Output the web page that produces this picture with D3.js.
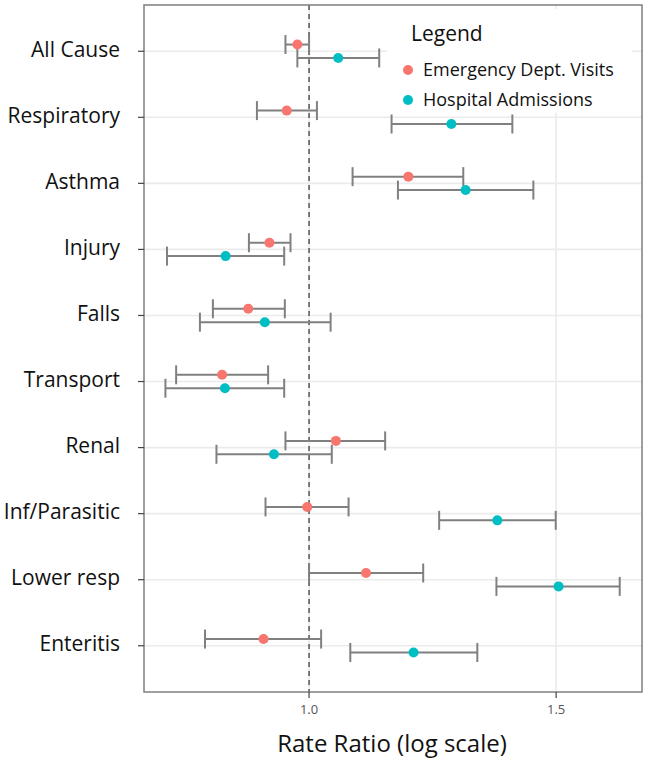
<!DOCTYPE html>
<html>
<meta charset="utf-8">
<script src="https://d3js.org/d3.v7.min.js"></script>
<style>
  body { margin: 0; background: #fff; }
  text { font-family: "Open Sans", sans-serif; }
</style>
<body>
<div id="chart"></div>
<script>
// outcome categories, top to bottom
var causes = ["All Cause", "Respiratory", "Asthma", "Injury", "Falls",
              "Transport", "Renal", "Inf/Parasitic", "Lower resp", "Enteritis"];

// emergency department visits: rate ratio and 95% CI
var edRR   = [0.981, 0.964, 1.177, 0.937, 0.905, 0.867, 1.045, 0.997, 1.098, 0.928];
var edLow  = [0.962, 0.918, 1.074, 0.906, 0.854, 0.804, 0.962, 0.931, 1.000, 0.843];
var edHigh = [1.000, 1.013, 1.288, 0.970, 0.961, 0.935, 1.133, 1.067, 1.206, 1.020];

// hospital admissions: rate ratio and 95% CI
var haRR   = [1.049, 1.263, 1.293, 0.872, 0.930, 0.871, 0.944, 1.362, 1.506, 1.187];
var haLow  = [0.981, 1.145, 1.157, 0.792, 0.836, 0.790, 0.859, 1.238, 1.360, 1.070];
var haHigh = [1.122, 1.396, 1.445, 0.960, 1.036, 0.960, 1.038, 1.499, 1.665, 1.318];

var xTicks = [1.0, 1.5];
var seriesNames = ["Emergency Dept. Visits", "Hospital Admissions"];
var seriesColors = ["#F8766D", "#00BFC4"];

var W = 646, H = 760;
var margin = {top: 5, right: 4, bottom: 68, left: 144};
var width = W - margin.left - margin.right,
    height = H - margin.top - margin.bottom;

var svg = d3.select("#chart").append("svg")
    .attr("width", W)
    .attr("height", H);

var g = svg.append("g")
    .attr("transform", "translate(" + margin.left + "," + margin.top + ")");

var x = d3.scaleLog().domain([0.7627, 1.727]).range([0, width]);
var y = d3.scalePoint().domain(causes).range([0, height]).padding(0.7);
var dodge = 6.7;

// gridlines
g.selectAll(".hgrid").data(causes).enter().append("line")
    .attr("x1", 0).attr("x2", width)
    .attr("y1", d => y(d)).attr("y2", d => y(d))
    .style("stroke", "#ebebeb").style("stroke-width", 1.6);
g.selectAll(".vgrid").data(xTicks).enter().append("line")
    .attr("x1", d => x(d)).attr("x2", d => x(d))
    .attr("y1", 0).attr("y2", height)
    .style("stroke", "#ebebeb").style("stroke-width", 1.6);

// reference line at 1
g.append("line")
    .attr("x1", x(1)).attr("x2", x(1))
    .attr("y1", 0).attr("y2", height)
    .style("stroke", "#555").style("stroke-width", 1.5)
    .style("stroke-dasharray", "5,4");

// build rows for both series
var rows = [];
causes.forEach(function(c, i) {
  rows.push({cause: c, s: 0, rr: edRR[i], lo: edLow[i], hi: edHigh[i]});
  rows.push({cause: c, s: 1, rr: haRR[i], lo: haLow[i], hi: haHigh[i]});
});
function yy(d) { return y(d.cause) + (d.s === 0 ? -dodge : dodge); }

var bars = g.selectAll(".err").data(rows).enter().append("g")
    .style("stroke", "#808080").style("stroke-width", 2);
bars.append("line")
    .attr("x1", d => x(d.lo)).attr("x2", d => x(d.hi))
    .attr("y1", yy).attr("y2", yy);
bars.append("line")
    .attr("x1", d => x(d.lo)).attr("x2", d => x(d.lo))
    .attr("y1", d => yy(d) - 9.5).attr("y2", d => yy(d) + 9.5);
bars.append("line")
    .attr("x1", d => x(d.hi)).attr("x2", d => x(d.hi))
    .attr("y1", d => yy(d) - 9.5).attr("y2", d => yy(d) + 9.5);

g.selectAll(".pt").data(rows).enter().append("circle")
    .attr("cx", d => x(d.rr)).attr("cy", yy).attr("r", 5)
    .style("fill", d => seriesColors[d.s]);

// legend
var leg = g.append("g").attr("transform", "translate(243,4)");
leg.append("rect").attr("x", 0).attr("y", 0).attr("width", 245).attr("height", 104)
    .style("fill", "#fff");
leg.append("text").attr("x", 24).attr("y", 32)
    .style("font-size", "21px").style("fill", "#111").text("Legend");
seriesNames.forEach(function(n, i) {
  leg.append("circle").attr("cx", 21).attr("cy", 61 + i * 30).attr("r", 5)
      .style("fill", seriesColors[i]);
  leg.append("text").attr("x", 36).attr("y", 61 + i * 30)
      .attr("dy", "0.35em")
      .style("font-size", "18px").style("fill", "#111").text(n);
});

// panel border
g.append("rect").attr("width", width).attr("height", height)
    .style("fill", "none").style("stroke", "#7f7f7f").style("stroke-width", 1.5);

// y axis
g.selectAll(".ytick").data(causes).enter().append("line")
    .attr("x1", -6).attr("x2", 0)
    .attr("y1", d => y(d)).attr("y2", d => y(d))
    .style("stroke", "#444").style("stroke-width", 1.2);
g.selectAll(".ylab").data(causes).enter().append("text")
    .attr("x", -24).attr("y", d => y(d) - 2)
    .attr("dy", "0.35em")
    .attr("text-anchor", "end")
    .style("font-size", "21px").style("fill", "#111")
    .text(d => d);

// x axis
g.selectAll(".xtick").data(xTicks).enter().append("line")
    .attr("x1", d => x(d)).attr("x2", d => x(d))
    .attr("y1", height).attr("y2", height + 6)
    .style("stroke", "#444").style("stroke-width", 1.2);
g.selectAll(".xlab").data(xTicks).enter().append("text")
    .attr("x", d => x(d)).attr("y", height + 17)
    .attr("dy", "0.35em")
    .attr("text-anchor", "middle")
    .style("font-size", "13px").style("fill", "#555")
    .text(d => d3.format(".1f")(d));

svg.append("text")
    .attr("x", 392).attr("y", 752)
    .attr("text-anchor", "middle")
    .style("font-size", "24px").style("fill", "#111")
    .text("Rate Ratio (log scale)");
</script>
</body>
</html>
